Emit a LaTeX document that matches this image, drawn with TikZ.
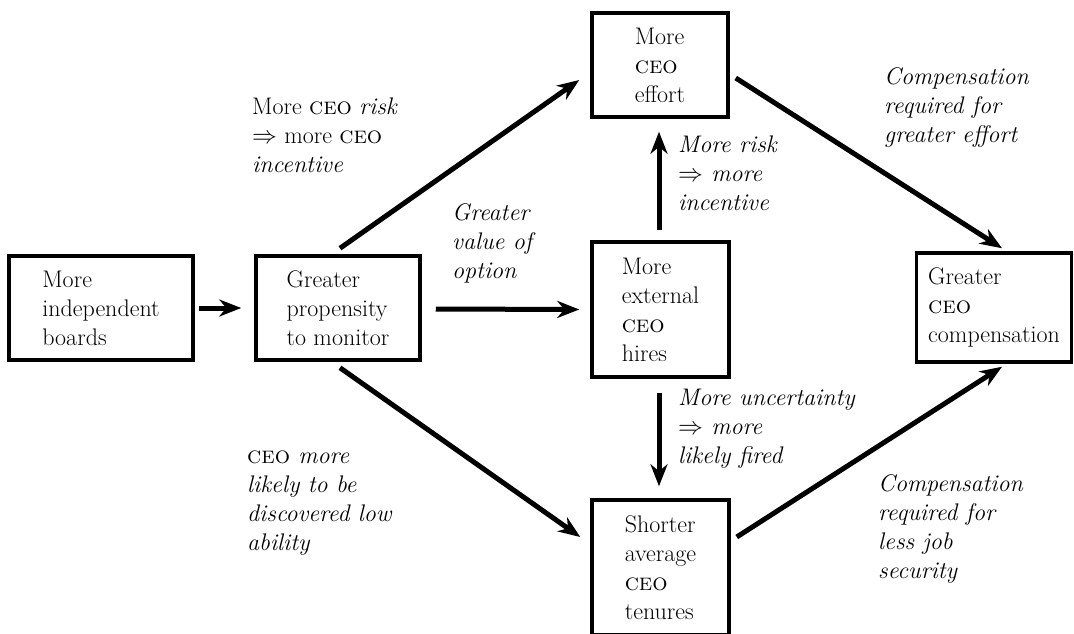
\documentclass[tikz,border=0pt]{standalone}
\usepackage{fontspec}
\usetikzlibrary{arrows.meta}
\begin{document}
\begin{tikzpicture}[x=1pt,y=1pt,
  every node/.style={font=\fontsize{24}{29}\selectfont},
  box/.style={draw, line width=3.5pt, align=left, inner sep=0pt},
  lbl/.style={anchor=base west, align=left, inner sep=0pt},
  lbli/.style={lbl, font=\fontsize{24}{29}\selectfont\itshape},
  arr/.style={line width=5pt, -{Stealth[length=22pt,width=17pt,inset=7pt]}}]
\useasboundingbox (0,0) rectangle (1074,-633);
% boxes
\node[box, minimum width=184pt, minimum height=104pt] (A) at (101,-308) {More\\independent\\boards};
\node[box, minimum width=164pt, minimum height=104pt] (B) at (338,-308) {Greater\\propensity\\to monitor};
\node[box, minimum width=137pt, minimum height=135pt] (C) at (660.5,-309.5) {More\\external\\\textsc{ceo}\\hires};
\node[box, minimum width=136pt, minimum height=104pt] (D) at (660,-65) {More\\\textsc{ceo}\\effort};
\node[box, minimum width=155pt, minimum height=109pt] (E) at (994,-307.5) {Greater\\\textsc{ceo}\\compensation};
\node[box, minimum width=137pt, minimum height=135pt] (F) at (660.5,-567.5) {Shorter\\average\\\textsc{ceo}\\tenures};
% connectors
\draw[arr] ([xshift=4pt]A.east) -- ([xshift=-13pt]B.west);
\draw[arr] ([xshift=14pt,yshift=-1pt]B.east) -- ([xshift=-11pt]C.west);
\draw[arr] ([shift={(2pt,6pt)}]B.north) -- ([shift={(-11pt,-15pt)}]D.west);
\draw[arr] ([shift={(2pt,-6pt)}]B.south) -- ([shift={(-10pt,30.5pt)}]F.west);
\draw[arr] ([shift={(-1.5pt,10pt)}]C.north) -- ([shift={(-1pt,-13pt)}]D.south);
\draw[arr] ([shift={(-1.5pt,-14pt)}]C.south) -- ([shift={(-1.5pt,12pt)}]F.north);
\draw[arr] ([shift={(6pt,-13pt)}]D.east) -- ([shift={(8pt,3pt)}]E.north);
\draw[arr] ([shift={(6pt,30.5pt)}]F.east) -- ([shift={(8pt,-3pt)}]E.south);
% labels (anchored at the baseline of the last line)
\node[lbl] (l1) at (252,-172) {More \textsc{ceo} \textit{risk}\\$\Rightarrow$ more \textsc{ceo}\\\textit{incentive}};
\node[lbli] (l2) at (452,-278) {Greater\\value of\\option};
\node[lbli] (l3) at (678,-210) {More risk\\$\Rightarrow$ more\\incentive};
\node[lbli] (l4) at (884,-142) {Compensation\\required for\\greater effort};
\node[lbli] (l5) at (678,-463) {More uncertainty\\$\Rightarrow$ more\\likely fired};
\node[lbli] (l6) at (247,-550) {\textup{\textsc{ceo}} more\\likely to be\\discovered low\\ability};
\node[lbli] (l7) at (878,-578) {Compensation\\required for\\less job\\security};
\end{tikzpicture}
\end{document}
